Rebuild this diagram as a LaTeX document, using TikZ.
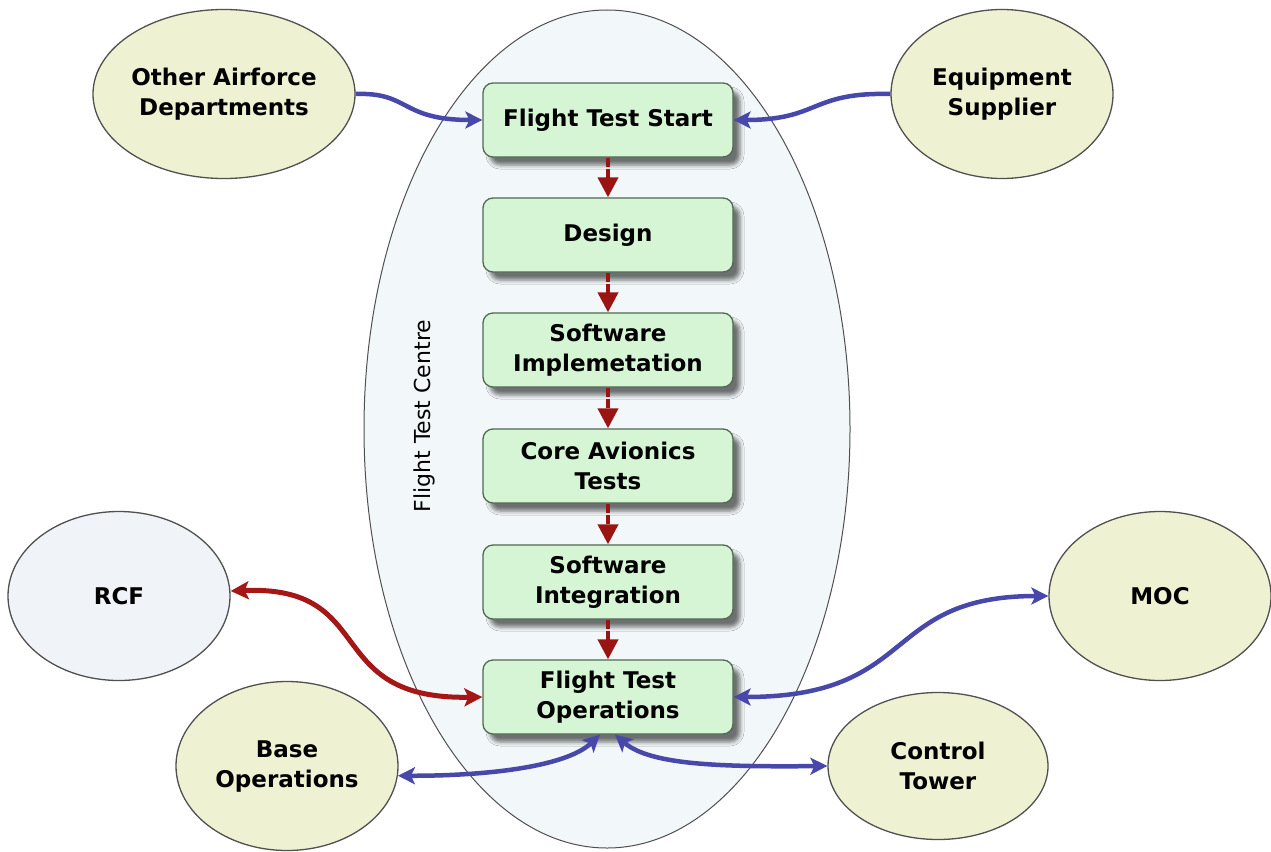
\documentclass[tikz,border=0pt]{standalone}
\usepackage{fontspec}
\setmainfont{DejaVu Sans}
\usetikzlibrary{shapes.geometric,arrows.meta,shadows.blur}
\definecolor{boxfill}{RGB}{214,245,212}
\definecolor{boxdraw}{RGB}{80,105,80}
\definecolor{circfill}{RGB}{238,242,210}
\definecolor{circdraw}{RGB}{80,80,80}
\definecolor{rcffill}{RGB}{240,244,248}
\definecolor{ftcfill}{RGB}{242,247,249}
\definecolor{linkblue}{RGB}{72,72,170}
\definecolor{linkred}{RGB}{165,22,22}
\definecolor{flowred}{RGB}{155,20,20}
\begin{document}
\begin{tikzpicture}[x=1pt,y=-1pt,
 stepbox/.style={draw=boxdraw, line width=1.3pt, fill=boxfill, rounded corners=10pt,
   minimum width=250pt, minimum height=74pt, inner sep=0pt, align=center,
   font=\bfseries\fontsize{23}{30}\selectfont,
   blur shadow={shadow xshift=7pt,shadow yshift=-8pt,shadow blur radius=4pt,shadow opacity=55}},
 party/.style={ellipse, draw=circdraw, line width=1.3pt, fill=circfill,
   minimum width=222pt, minimum height=169pt, inner sep=0pt, align=center,
   font=\bfseries\fontsize{23}{30}\selectfont},
 flow/.style={draw=flowred, line width=4pt, dash pattern=on 9pt off 2pt,
   -{Triangle[length=20pt,width=20pt]}},
 bluetip/.tip={Stealth[length=17pt,width=17pt,inset=4pt]},
 bluelink/.style={draw=linkblue, line width=4.5pt},
 redlink/.style={draw=linkred, line width=5pt},
]
\useasboundingbox (0,0) rectangle (1271,851);
\fill[white] (0,0) rectangle (1271,851);

% big ellipse
\node[ellipse, draw=circdraw, line width=1pt, fill=ftcfill, minimum width=486pt,
  minimum height=838pt, inner sep=0pt] (ftc) at (607,429) {};
\node[rotate=90, font=\fontsize{22}{26}\selectfont] (ftclabel) at (424,416) {Flight Test Centre};

% boxes
\node[stepbox] (fts) at (608,120) {Flight Test Start};
\node[stepbox] (des) at (608,235) {Design};
\node[stepbox] (swi) at (608,350) {Software\\Implemetation};
\node[stepbox] (cat) at (608,466) {Core Avionics\\Tests};
\node[stepbox] (sint) at (608,582) {Software\\Integration};
\node[stepbox] (fto) at (608,697) {Flight Test\\Operations};

% outer parties
\node[party] (oad) at (224,94) {Other Airforce\\Departments};
\node[party] (eqs) at (1002,94) {Equipment\\Supplier};
\node[party, fill=rcffill] (rcf) at (119,596) {RCF};
\node[party] (moc) at (1160,596) {MOC};
\node[party] (base) at (287,766) {Base\\Operations};
\node[party, minimum width=220pt, minimum height=147pt] (ct) at (938,766) {Control\\Tower};

% flow arrows
\draw[flow] (fts.south) -- (des.north);
\draw[flow] (des.south) -- (swi.north);
\draw[flow] (swi.south) -- (cat.north);
\draw[flow] (cat.south) -- (sint.north);
\draw[flow] (sint.south) -- (fto.north);

% links
\draw[bluelink, -{bluetip}] (oad.east) .. controls (410,92) and (400,120) .. (fts.west);
\draw[bluelink, -{bluetip}] (eqs.west) .. controls (810,92) and (820,120) .. (fts.east);
\draw[redlink, {Stealth[length=18pt,width=18pt,inset=4pt]}-{Stealth[length=18pt,width=18pt,inset=4pt]}]
  ([yshift=5pt]rcf.east) .. controls (380,585) and (320,700) .. (fto.west);
\draw[bluelink, {bluetip}-{bluetip}] (moc.west) .. controls (880,596) and (920,697) .. (fto.east);
\coordinate (ftobl) at ([xshift=-8pt]fto.south);
\coordinate (ftobr) at ([xshift=7pt]fto.south);
\draw[bluelink, {bluetip}-{bluetip}] (base.-5) .. controls (480,776) and (565,768) .. (ftobl);
\draw[bluelink, {bluetip}-{bluetip}] (ftobr) .. controls (650,765) and (720,767) .. (ct.west);
\end{tikzpicture}
\end{document}
